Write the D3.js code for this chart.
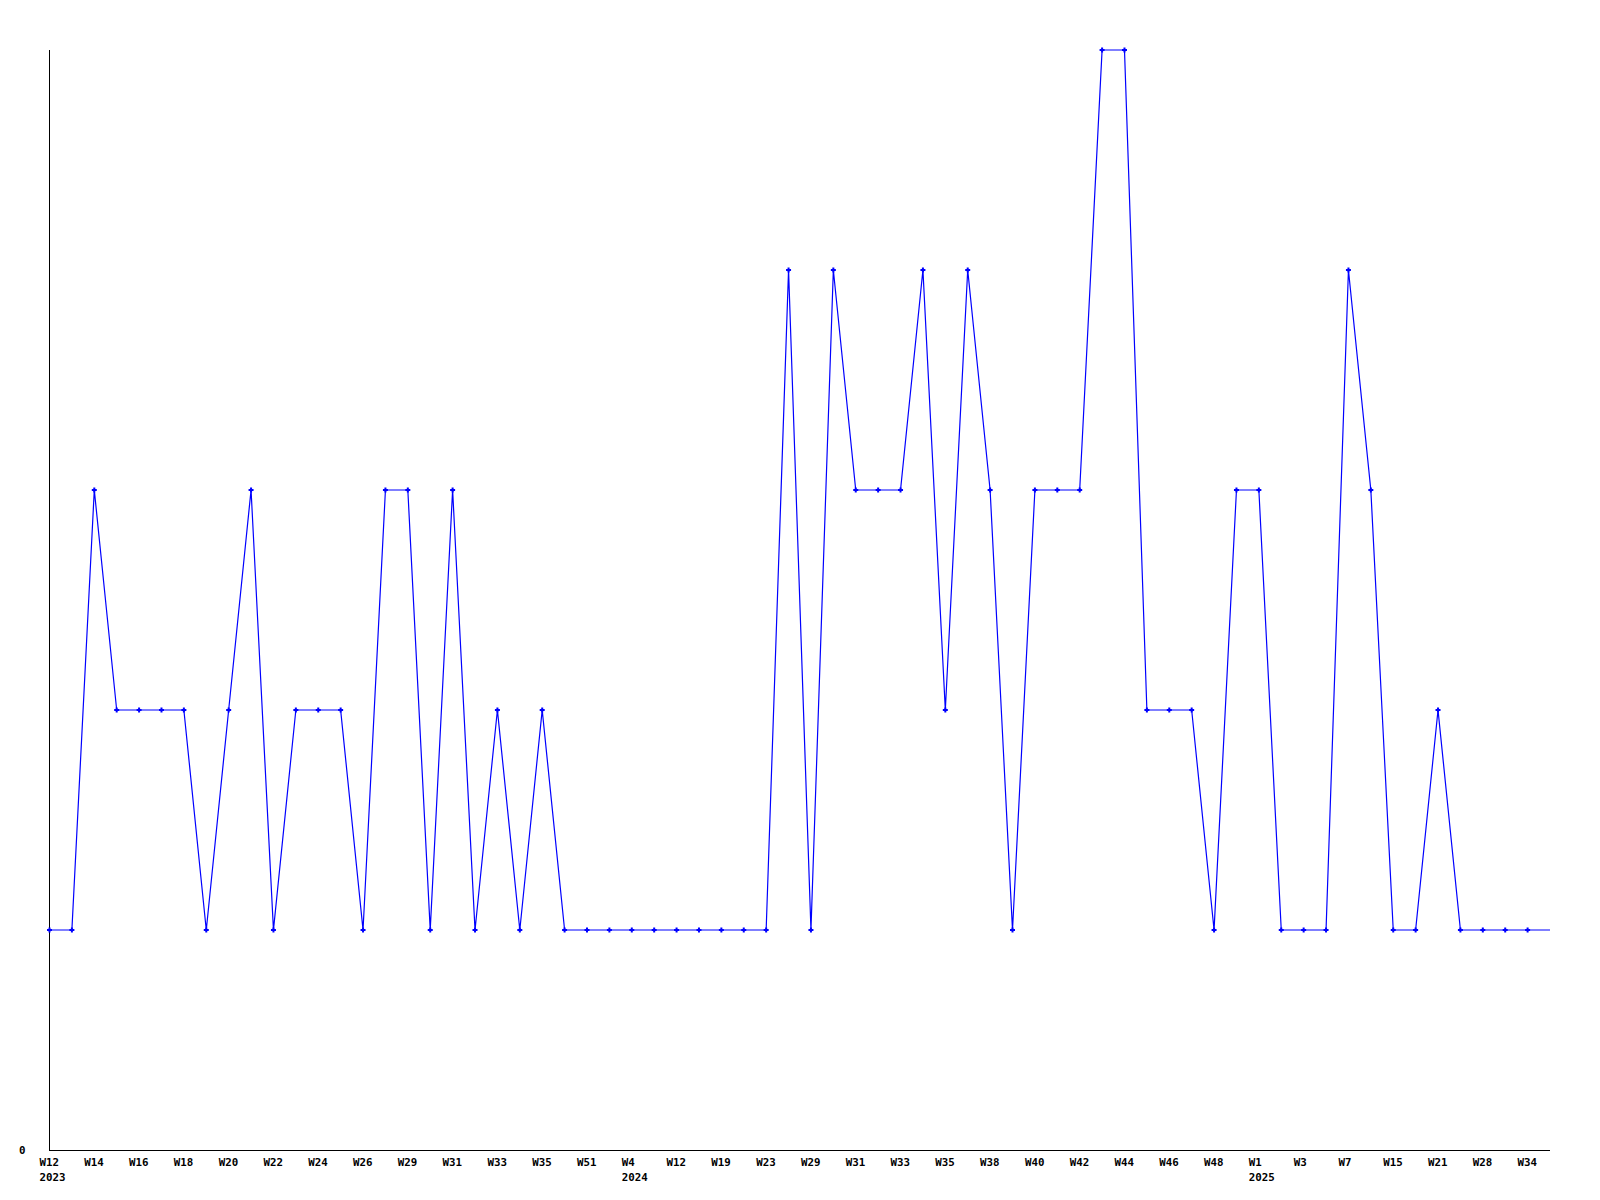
<!DOCTYPE html>
<html>
<head>
<meta charset="utf-8">
<script src="https://cdn.jsdelivr.net/npm/d3@7"></script>
<style>
  html, body { margin: 0; padding: 0; background: #ffffff; }
  svg text { font-family: "DejaVu Sans Mono", "Liberation Mono", monospace; font-weight: bold; font-size: 10.8px; fill: #000; }
</style>
</head>
<body>
<svg id="chart" width="1600" height="1200"></svg>
<script>
// Weekly values, one per category (68 points, the last one is unmarked)
const values = [
  1, 1, 3, 2, 2, 2, 2, 1, 2, 3,
  1, 2, 2, 2, 1, 3, 3, 1, 3, 1,
  2, 1, 2, 1, 1, 1, 1, 1, 1, 1,
  1, 1, 1, 4, 1, 4, 3, 3, 3, 4,
  2, 4, 3, 1, 3, 3, 3, 5, 5, 2,
  2, 2, 1, 3, 3, 1, 1, 1, 4, 3,
  1, 1, 2, 1, 1, 1, 1, 1
];
// Tick labels, shown on every second category
const weekLabels = [
  "W12", "W14", "W16", "W18", "W20", "W22", "W24", "W26", "W29", "W31",
  "W33", "W35", "W51", "W4", "W12", "W19", "W23", "W29", "W31", "W33",
  "W35", "W38", "W40", "W42", "W44", "W46", "W48", "W1", "W3", "W7",
  "W15", "W21", "W28", "W34"
];
// Year labels placed under the week label at given tick position
const yearLabels = [
  { tick: 0, year: "2023" },
  { tick: 13, year: "2024" },
  { tick: 27, year: "2025" }
];
const yTickValues = [0];

(function () {
  const svg = d3.select("#chart");
  const mLeft = 49.5, mRight = 1550, mTop = 50, mBottom = 1150;
  const n = values.length;
  const labelShift = 10;

  const x = d3.scaleLinear().domain([0, n - 1]).range([mLeft, mRight]);
  const y = d3.scaleLinear().domain([0, 5]).range([mBottom, mTop]);

  // Axes lines
  svg.append("line").attr("x1", mLeft).attr("x2", mLeft).attr("y1", mTop).attr("y2", mBottom + 0.5)
    .attr("stroke", "#000").attr("stroke-width", 1).attr("shape-rendering", "crispEdges");
  svg.append("line").attr("x1", mLeft).attr("x2", mRight).attr("y1", mBottom + 0.5).attr("y2", mBottom + 0.5)
    .attr("stroke", "#000").attr("stroke-width", 1).attr("shape-rendering", "crispEdges");

  // Y tick labels
  svg.selectAll("text.ytick").data(yTickValues).enter().append("text")
    .attr("class", "ytick")
    .attr("x", 25.5).attr("y", d => y(d) + 4)
    .attr("text-anchor", "end")
    .text(d => d);

  // X tick labels (left-aligned, shifted a fixed amount left of the point)
  svg.selectAll("text.xtick").data(weekLabels).enter().append("text")
    .attr("class", "xtick")
    .attr("x", (d, i) => x(i * 2) - labelShift)
    .attr("y", 1166)
    .attr("text-anchor", "start")
    .text(d => d);

  // Year labels aligned to the left edge of their week label
  svg.selectAll("text.year").data(yearLabels).enter().append("text")
    .attr("class", "year")
    .attr("x", d => x(d.tick * 2) - labelShift)
    .attr("y", 1181)
    .attr("text-anchor", "start")
    .text(d => d.year);

  // Line
  const line = d3.line().x((d, i) => x(i)).y(d => y(d));
  svg.append("path").datum(values)
    .attr("d", line)
    .attr("fill", "none")
    .attr("stroke", "#0000ff")
    .attr("stroke-width", 1.2);

  // Markers (small crosses), not on the final unmarked point
  const markerData = values.map((v, i) => ({ v, i })).filter(d => d.i < n - 1);
  svg.selectAll("path.marker").data(markerData).enter().append("path")
    .attr("class", "marker")
    .attr("d", d => {
      const cx = x(d.i), cy = y(d.v);
      return `M${cx - 2.5},${cy}H${cx + 2.5}M${cx},${cy - 2.5}V${cy + 2.5}`;
    })
    .attr("stroke", "#0000ff")
    .attr("stroke-width", 2)
    .attr("fill", "none");
})();
</script>
</body>
</html>
